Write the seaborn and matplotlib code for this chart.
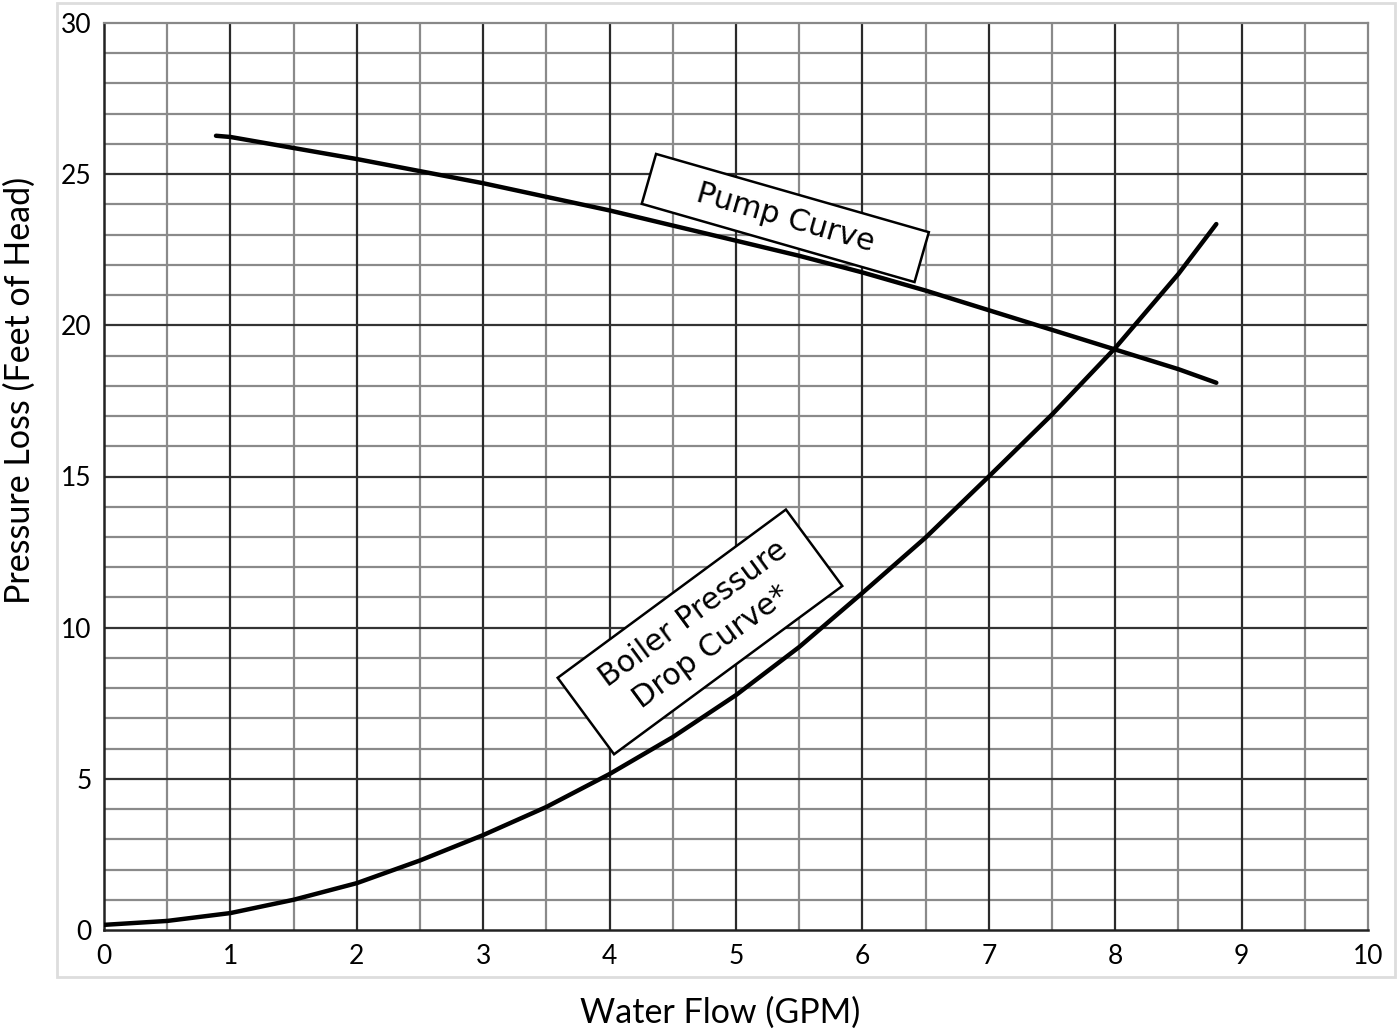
import numpy as np
import pandas as pd
import matplotlib
matplotlib.use("Agg")
import matplotlib.pyplot as plt
import seaborn as sns
from matplotlib.patches import Rectangle

# Data
pump_flow = [0.886, 1, 2, 3, 4, 5, 5.5, 6, 6.5, 7, 7.5, 8, 8.5, 8.8]
pump_head = [26.27, 26.23, 25.5, 24.7, 23.8, 22.8, 22.3, 21.75, 21.15, 20.5, 19.85, 19.2,
             18.55, 18.1]

boiler_flow = [0, 0.5, 1, 1.5, 2, 2.5, 3, 3.5, 4, 4.5, 5, 5.5, 6, 6.5, 7, 7.5, 8, 8.5, 8.8]
boiler_head = [0.17, 0.3, 0.56, 1.0, 1.55, 2.3, 3.14, 4.07, 5.16, 6.38, 7.77, 9.36, 11.15,
               12.98, 15.0, 17.05, 19.25, 21.7, 23.35]

x_ticks = [0, 1, 2, 3, 4, 5, 6, 7, 8, 9, 10]
y_ticks = [0, 5, 10, 15, 20, 25, 30]

x_label = "Water Flow (GPM)"
y_label = "Pressure Loss (Feet of Head)"
pump_label = "Pump Curve"
boiler_label = ["Boiler Pressure", "Drop Curve*"]

sns.set_theme(style="white")
plt.rcParams['font.family'] = ['Lato', 'DejaVu Sans']

fig = plt.figure(figsize=(13.98, 10.30), dpi=100)
ax = fig.add_axes([104/1398, 100/1030, (1368-104)/1398, (930-23)/1030])

# light frame around the chart
fig.patches.append(Rectangle((57/1398, (1030-977)/1030), (1395-57)/1398, (977-3)/1030,
                             transform=fig.transFigure, fill=False,
                             edgecolor="#dddddd", lw=2, zorder=0))

# grid
for v in np.arange(0.5, 10, 1.0):
    ax.axvline(v, color="#8a8a8a", lw=1.6, zorder=1)
for v in range(1, 10):
    ax.axvline(v, color="#2a2a2a", lw=1.6, zorder=1.2)
for h in range(1, 30):
    if h % 5:
        ax.axhline(h, color="#8a8a8a", lw=1.6, zorder=1)
for h in range(5, 30, 5):
    ax.axhline(h, color="#333333", lw=1.6, zorder=1.2)

pump_df = pd.DataFrame({"flow": pump_flow, "head": pump_head})
boiler_df = pd.DataFrame({"flow": boiler_flow, "head": boiler_head})

sns.lineplot(data=pump_df, x="flow", y="head", ax=ax, color="black", lw=3.2,
             zorder=3, sort=False, solid_capstyle="round", solid_joinstyle="round")
sns.lineplot(data=boiler_df, x="flow", y="head", ax=ax, color="black", lw=3.2,
             zorder=3, sort=False, solid_capstyle="round", solid_joinstyle="round")

ax.set_xlim(0, 10)
ax.set_ylim(0, 30)
ax.set_xticks(x_ticks)
ax.set_yticks(y_ticks)
ax.tick_params(axis="both", length=0, labelsize=19, colors="black")
ax.tick_params(axis="x", pad=10)
ax.tick_params(axis="y", pad=9)
ax.set_xlabel(x_label, fontsize=24.5, color="black")
ax.set_ylabel(y_label, fontsize=24.5, color="black")
ax.xaxis.label.set_va("center")
ax.yaxis.label.set_va("center")
ax.xaxis.set_label_coords((720 - 104) / 1264, (930 - 1013) / 907)
ax.yaxis.set_label_coords((20 - 104) / 1264, (930 - 390) / 907)

for side in ["left", "bottom"]:
    ax.spines[side].set_color("#222222")
    ax.spines[side].set_linewidth(1.8)
for side in ["top", "right"]:
    ax.spines[side].set_color("#888888")
    ax.spines[side].set_linewidth(1.6)

box1 = dict(boxstyle="square,pad=0.38", facecolor="white", edgecolor="black", lw=1.8)
box2 = dict(boxstyle="square,pad=0.48", facecolor="white", edgecolor="black", lw=1.8)
ax.text(5.39, 23.55, "    " + pump_label + "    ", rotation=-16, ha="center", va="center",
        fontsize=21.7, family="DejaVu Sans", color="black", bbox=box1, zorder=4,
        rotation_mode="anchor")
ax.text(4.715, 9.86, "  " + boiler_label[0] + " \n" + boiler_label[1], rotation=36.4,
        ha="center", va="center", multialignment="center", fontsize=21.7,
        family="DejaVu Sans", color="black", bbox=box2, zorder=4,
        rotation_mode="anchor", linespacing=1.35)

fig.savefig("out.png", dpi=100)
